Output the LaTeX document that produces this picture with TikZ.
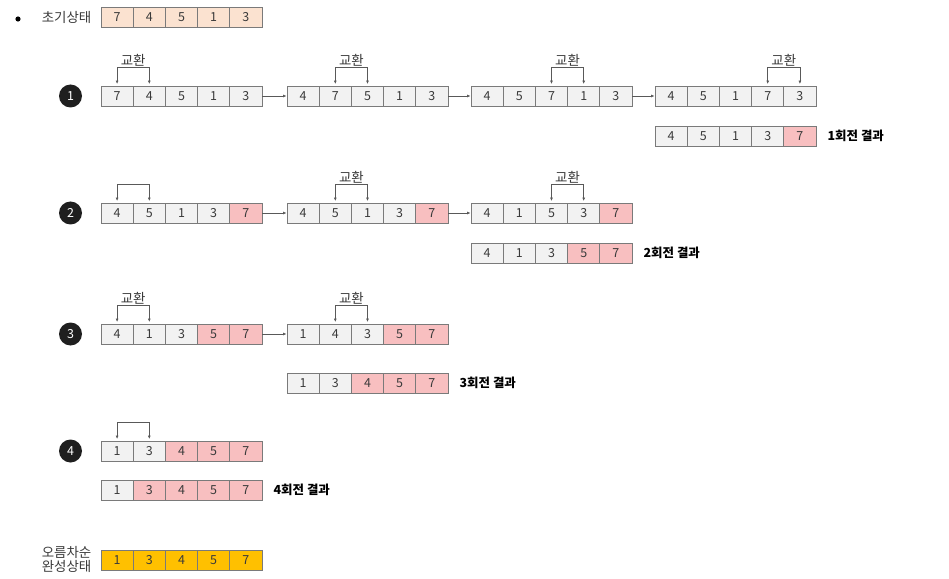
\documentclass[tikz,border=0pt]{standalone}
\usepackage{fontspec}
\setmainfont{Noto Sans CJK KR}
\usetikzlibrary{arrows.meta,calc}
\definecolor{cellgray}{HTML}{F2F2F2}
\definecolor{cellpink}{HTML}{F8BFC0}
\definecolor{cellpeach}{HTML}{FBE2D0}
\definecolor{cellgold}{HTML}{FFC000}
\definecolor{edgegray}{HTML}{7A7A7A}
\definecolor{txt}{HTML}{3A3A3A}
\definecolor{linegray}{HTML}{595959}
\tikzset{
  cell/.style={draw=edgegray, line width=0.9bp, minimum width=32.2bp, minimum height=20bp,
    inner sep=0pt, font=\fontsize{12.5}{13}\selectfont, text=txt},
  gc/.style={fill=cellgray}, pc/.style={fill=cellpink}, oc/.style={fill=cellpeach}, yc/.style={fill=cellgold},
  swp/.style={draw=linegray, line width=0.7bp, {Latex[length=3.5bp,width=3bp]}-{Latex[length=3.5bp,width=3bp]},
    shorten <=1.5bp, shorten >=1.5bp},
  conn/.style={draw=linegray, line width=0.7bp, -{Latex[length=3.5bp,width=3bp]}},
  lbl/.style={font=\fontsize{13.5}{14}\selectfont, text=txt, inner sep=1bp},
  resl/.style={font=\bfseries\fontsize{12.5}{13}\selectfont, text=black, anchor=west, inner sep=0pt},
  numc/.style={circle, fill=black!88, text=white, minimum size=23bp, inner sep=0pt, font=\fontsize{12.5}{13}\selectfont}
}
\newcommand{\mkarray}[4]{\foreach \v/\s [count=\i] in {#4} {\node[cell,\s] (#1-\i) at ({#2+(\i-0.5)*32.2},#3) {\v};}}
\begin{document}
\begin{tikzpicture}[x=1bp,y=-1bp]
\useasboundingbox (0,0) rectangle (949,579);
\fill[white] (0,0) rectangle (949,579);

% initial state
\fill[black] (18,19) circle (2.6bp);
\mkarray{init}{101}{17}{7/oc,4/oc,5/oc,1/oc,3/oc}
\node[lbl, anchor=east] (initl) at ([xshift=-8bp]init-1.west) {초기상태};

% round 1
\node[numc] (n1) at (70.5,96) {1};
\mkarray{a1}{101}{96}{7/gc,4/gc,5/gc,1/gc,3/gc}
\mkarray{a2}{287}{96}{4/gc,7/gc,5/gc,1/gc,3/gc}
\mkarray{a3}{471}{96}{4/gc,5/gc,7/gc,1/gc,3/gc}
\mkarray{a4}{655}{96}{4/gc,5/gc,1/gc,7/gc,3/gc}
\mkarray{r1}{655}{136}{4/gc,5/gc,1/gc,3/gc,7/pc}
\node[resl] (r1l) at ([xshift=11bp]r1-5.east) {1회전 결과};
\draw[conn] (a1-5.east) -- (a2-1.west);
\draw[conn] (a2-5.east) -- (a3-1.west);
\draw[conn] (a3-5.east) -- (a4-1.west);
\draw[swp] (a1-1.north) -- ++(0,-18) -| (a1-2.north) node[pos=0.25, above, lbl] {교환};
\draw[swp] (a2-2.north) -- ++(0,-18) -| (a2-3.north) node[pos=0.25, above, lbl] {교환};
\draw[swp] (a3-3.north) -- ++(0,-18) -| (a3-4.north) node[pos=0.25, above, lbl] {교환};
\draw[swp] (a4-4.north) -- ++(0,-18) -| (a4-5.north) node[pos=0.25, above, lbl] {교환};

% round 2
\node[numc] (n2) at (70.5,213) {2};
\mkarray{b1}{101}{213}{4/gc,5/gc,1/gc,3/gc,7/pc}
\mkarray{b2}{287}{213}{4/gc,5/gc,1/gc,3/gc,7/pc}
\mkarray{b3}{471}{213}{4/gc,1/gc,5/gc,3/gc,7/pc}
\mkarray{r2}{471}{253}{4/gc,1/gc,3/gc,5/pc,7/pc}
\node[resl] (r2l) at ([xshift=11bp]r2-5.east) {2회전 결과};
\draw[conn] (b1-5.east) -- (b2-1.west);
\draw[conn] (b2-5.east) -- (b3-1.west);
\draw[swp] (b1-1.north) -- ++(0,-18) -| (b1-2.north);
\draw[swp] (b2-2.north) -- ++(0,-18) -| (b2-3.north) node[pos=0.25, above, lbl] {교환};
\draw[swp] (b3-3.north) -- ++(0,-18) -| (b3-4.north) node[pos=0.25, above, lbl] {교환};

% round 3
\node[numc] (n3) at (70.5,334) {3};
\mkarray{c1}{101}{334}{4/gc,1/gc,3/gc,5/pc,7/pc}
\mkarray{c2}{287}{334}{1/gc,4/gc,3/gc,5/pc,7/pc}
\mkarray{r3}{287}{383}{1/gc,3/gc,4/pc,5/pc,7/pc}
\node[resl] (r3l) at ([xshift=11bp]r3-5.east) {3회전 결과};
\draw[conn] (c1-5.east) -- (c2-1.west);
\draw[swp] (c1-1.north) -- ++(0,-18) -| (c1-2.north) node[pos=0.25, above, lbl] {교환};
\draw[swp] (c2-2.north) -- ++(0,-18) -| (c2-3.north) node[pos=0.25, above, lbl] {교환};

% round 4
\node[numc] (n4) at (70.5,451) {4};
\mkarray{d1}{101}{451}{1/gc,3/gc,4/pc,5/pc,7/pc}
\mkarray{r4}{101}{490}{1/gc,3/pc,4/pc,5/pc,7/pc}
\node[resl] (r4l) at ([xshift=11bp]r4-5.east) {4회전 결과};
\draw[swp] (d1-1.north) -- ++(0,-18) -| (d1-2.north);

% final
\mkarray{fin}{101}{560}{1/yc,3/yc,4/yc,5/yc,7/yc}
\node[lbl, anchor=east, align=center, font=\fontsize{13.5}{14}\selectfont] (finl) at ([xshift=-8bp,yshift=0.5bp]fin-1.west) {오름차순\\완성상태};
\end{tikzpicture}
\end{document}
